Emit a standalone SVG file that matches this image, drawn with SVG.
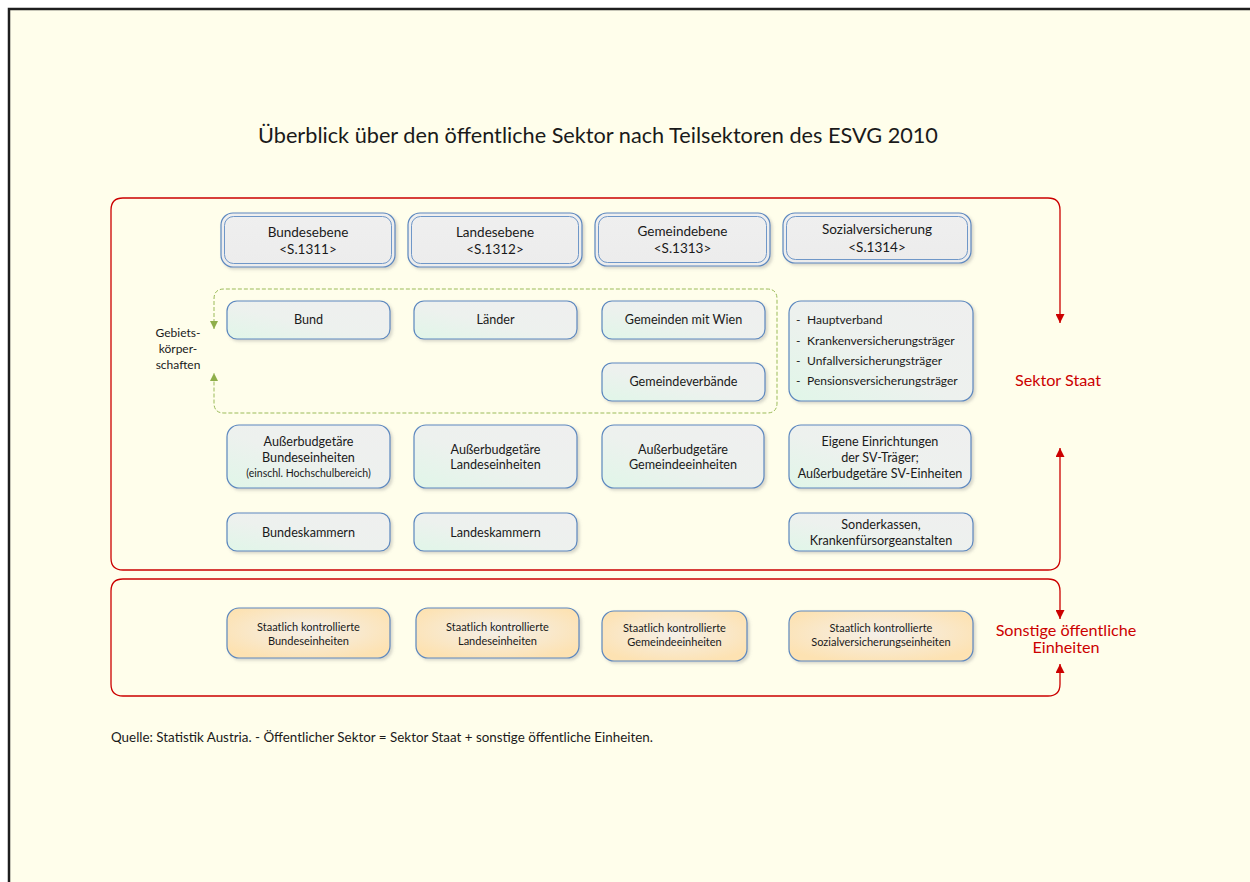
<svg xmlns="http://www.w3.org/2000/svg" width="1250" height="882" viewBox="0 0 1250 882">
<defs>
<linearGradient id="gGray" x1="0" y1="1" x2="1" y2="0">
<stop offset="0" stop-color="#e0f6e8"/><stop offset="0.45" stop-color="#edf1ee"/><stop offset="1" stop-color="#efefef"/>
</linearGradient>
<linearGradient id="gHead" x1="0" y1="0" x2="0" y2="1">
<stop offset="0" stop-color="#efefef"/><stop offset="1" stop-color="#ececec"/>
</linearGradient>
<radialGradient id="gOrange" cx="0.5" cy="0.45" r="0.6">
<stop offset="0" stop-color="#f4f0ea"/><stop offset="1" stop-color="#fde2b2"/>
</radialGradient>
<filter id="sh" x="-10%" y="-10%" width="130%" height="140%">
<feDropShadow dx="2" dy="2" stdDeviation="1.5" flood-color="#8a8a8a" flood-opacity="0.35"/>
</filter>
<marker id="arR" viewBox="0 0 10 10" refX="10" refY="5" markerWidth="9" markerHeight="9" markerUnits="userSpaceOnUse" orient="auto-start-reverse">
<path d="M0,0 L10,5 L0,10 z" fill="#cc0000"/>
</marker>
<marker id="arG" viewBox="0 0 10 10" refX="10" refY="5" markerWidth="8" markerHeight="8" markerUnits="userSpaceOnUse" orient="auto-start-reverse">
<path d="M0,0 L10,5 L0,10 z" fill="#8fae4a"/>
</marker>
<style>
text{font-family:Lato,"Liberation Sans",sans-serif;fill:#1a1a1a}
.t{font-size:12.6px;text-anchor:middle}
.th{font-size:13.5px;text-anchor:middle}
.ts{font-size:10.5px;text-anchor:middle}
.to{font-size:11px;text-anchor:middle}
.tl{font-size:12px}
.box{fill:url(#gGray);stroke:#5c88bf;stroke-width:1.2;filter:url(#sh)}
.ob{fill:url(#gOrange);stroke:#5c88bf;stroke-width:1.2;filter:url(#sh)}
.ho{fill:url(#gHead);stroke:#5c88bf;stroke-width:1.2;filter:url(#sh)}
.hi{fill:none;stroke:#6f97c8;stroke-width:1}
.red{fill:none;stroke:#cc0000;stroke-width:1.3}
.grn{fill:none;stroke:#9bbb59;stroke-width:1;stroke-dasharray:4 2}
.lab{fill:#cc0000;font-size:16.2px;text-anchor:middle}
</style>
</defs>
<rect x="0" y="0" width="1250" height="882" fill="#ffffff"/>
<rect x="9" y="9" width="1260" height="900" fill="#fffeeb" stroke="#1e1e1e" stroke-width="2.5"/>
<text x="598" y="143" style="font-size:21.7px;text-anchor:middle">Überblick über den öffentliche Sektor nach Teilsektoren des ESVG 2010</text>

<g id="connectors">
<path class="red" marker-start="url(#arR)" marker-end="url(#arR)" d="M1060,323 L1060,210 Q1060,198 1048,198 L123,198 Q111,198 111,210 L111,558 Q111,570 123,570 L1048,570 Q1060,570 1060,558 L1060,448"/>
<path class="red" marker-start="url(#arR)" marker-end="url(#arR)" d="M1060,619 L1060,591 Q1060,579 1048,579 L123,579 Q111,579 111,591 L111,684 Q111,696 123,696 L1048,696 Q1060,696 1060,684 L1060,664"/>
<path class="grn" marker-start="url(#arG)" marker-end="url(#arG)" d="M214,329 L214,299 Q214,289 224,289 L767,289 Q777,289 777,299 L777,403 Q777,413 767,413 L224,413 Q214,413 214,403 L214,373"/>
</g>

<g id="lbl-staat"><text class="lab" x="1058" y="386">Sektor Staat</text></g>
<g id="lbl-sonstige"><text class="lab" x="1066" y="636">Sonstige öffentliche</text><text class="lab" x="1066" y="653">Einheiten</text></g>
<g id="lbl-gebiet"><text class="tl" x="178" y="337" text-anchor="middle">Gebiets-</text><text class="tl" x="178" y="353" text-anchor="middle">körper-</text><text class="tl" x="178" y="369" text-anchor="middle">schaften</text></g>

<g id="h-bund"><rect class="ho" x="221" y="213" width="174" height="54" rx="12"/><rect class="hi" x="224.5" y="216.5" width="167" height="47" rx="9"/><text class="th" x="308" y="237">Bundesebene</text><text class="th" x="308" y="254">&lt;S.1311&gt;</text></g>
<g id="h-land"><rect class="ho" x="408" y="213" width="174" height="54" rx="12"/><rect class="hi" x="411.5" y="216.5" width="167" height="47" rx="9"/><text class="th" x="495" y="237">Landesebene</text><text class="th" x="495" y="254">&lt;S.1312&gt;</text></g>
<g id="h-gem"><rect class="ho" x="595" y="213" width="175" height="53" rx="12"/><rect class="hi" x="598.5" y="216.5" width="168" height="46" rx="9"/><text class="th" x="682.5" y="236">Gemeindebene</text><text class="th" x="682.5" y="253">&lt;S.1313&gt;</text></g>
<g id="h-sv"><rect class="ho" x="783" y="213" width="188" height="50" rx="12"/><rect class="hi" x="786.5" y="216.5" width="181" height="43" rx="9"/><text class="th" x="877" y="234">Sozialversicherung</text><text class="th" x="877" y="252">&lt;S.1314&gt;</text></g>

<g id="n-bund"><rect class="box" x="227" y="301" width="163" height="38" rx="10"/><text class="t" x="308.5" y="324">Bund</text></g>
<g id="n-laender"><rect class="box" x="414" y="301" width="163" height="38" rx="10"/><text class="t" x="495.5" y="324">Länder</text></g>
<g id="n-gemwien"><rect class="box" x="602" y="301" width="163" height="38" rx="10"/><text class="t" x="683.5" y="324">Gemeinden mit Wien</text></g>
<g id="n-gemverb"><rect class="box" x="602" y="363" width="163" height="38" rx="10"/><text class="t" x="683.5" y="386">Gemeindeverbände</text></g>
<g id="n-hv"><rect class="box" x="789" y="301" width="184" height="100" rx="12"/>
<text class="tl" x="796" y="324">-</text><text class="tl" x="807" y="324">Hauptverband</text>
<text class="tl" x="796" y="345">-</text><text class="tl" x="807" y="345">Krankenversicherungsträger</text>
<text class="tl" x="796" y="365">-</text><text class="tl" x="807" y="365">Unfallversicherungsträger</text>
<text class="tl" x="796" y="385">-</text><text class="tl" x="807" y="385">Pensionsversicherungsträger</text></g>

<g id="n-ab-bund"><rect class="box" x="227" y="425" width="163" height="63" rx="12"/><text class="t" x="308.5" y="445.5">Außerbudgetäre</text><text class="t" x="308.5" y="461.5">Bundeseinheiten</text><text class="ts" x="308.5" y="477">(einschl. Hochschulbereich)</text></g>
<g id="n-ab-land"><rect class="box" x="414" y="425" width="163" height="63" rx="12"/><text class="t" x="495.5" y="453.5">Außerbudgetäre</text><text class="t" x="495.5" y="469">Landeseinheiten</text></g>
<g id="n-ab-gem"><rect class="box" x="602" y="425" width="162" height="63" rx="12"/><text class="t" x="683" y="453.5">Außerbudgetäre</text><text class="t" x="683" y="469">Gemeindeeinheiten</text></g>
<g id="n-eigene"><rect class="box" x="789" y="425" width="182" height="63" rx="12"/><text class="t" x="880" y="445.5">Eigene Einrichtungen</text><text class="t" x="880" y="461.5">der SV-Träger;</text><text class="t" x="880" y="477.5">Außerbudgetäre SV-Einheiten</text></g>

<g id="n-bk"><rect class="box" x="227" y="513" width="163" height="38" rx="10"/><text class="t" x="308.5" y="536.5">Bundeskammern</text></g>
<g id="n-lk"><rect class="box" x="414" y="513" width="163" height="38" rx="10"/><text class="t" x="495.5" y="536.5">Landeskammern</text></g>
<g id="n-sk"><rect class="box" x="789" y="513" width="184" height="38" rx="10"/><text class="t" x="881" y="528.5">Sonderkassen,</text><text class="t" x="881" y="544.5">Krankenfürsorgeanstalten</text></g>

<g id="o-bund"><rect class="ob" x="227" y="608" width="163" height="50" rx="12"/><text class="to" x="308.5" y="630.5">Staatlich kontrollierte</text><text class="to" x="308.5" y="645">Bundeseinheiten</text></g>
<g id="o-land"><rect class="ob" x="416" y="608" width="163" height="50" rx="12"/><text class="to" x="497.5" y="630.5">Staatlich kontrollierte</text><text class="to" x="497.5" y="645">Landeseinheiten</text></g>
<g id="o-gem"><rect class="ob" x="602" y="611" width="145" height="50" rx="12"/><text class="to" x="674.5" y="632">Staatlich kontrollierte</text><text class="to" x="674.5" y="646">Gemeindeeinheiten</text></g>
<g id="o-sv"><rect class="ob" x="789" y="611" width="184" height="50" rx="12"/><text class="to" x="881" y="632">Staatlich kontrollierte</text><text class="to" x="881" y="646">Sozialversicherungseinheiten</text></g>

<text x="111" y="742" style="font-size:13.4px">Quelle: Statistik Austria. - Öffentlicher Sektor = Sektor Staat + sonstige öffentliche Einheiten.</text>
</svg>
